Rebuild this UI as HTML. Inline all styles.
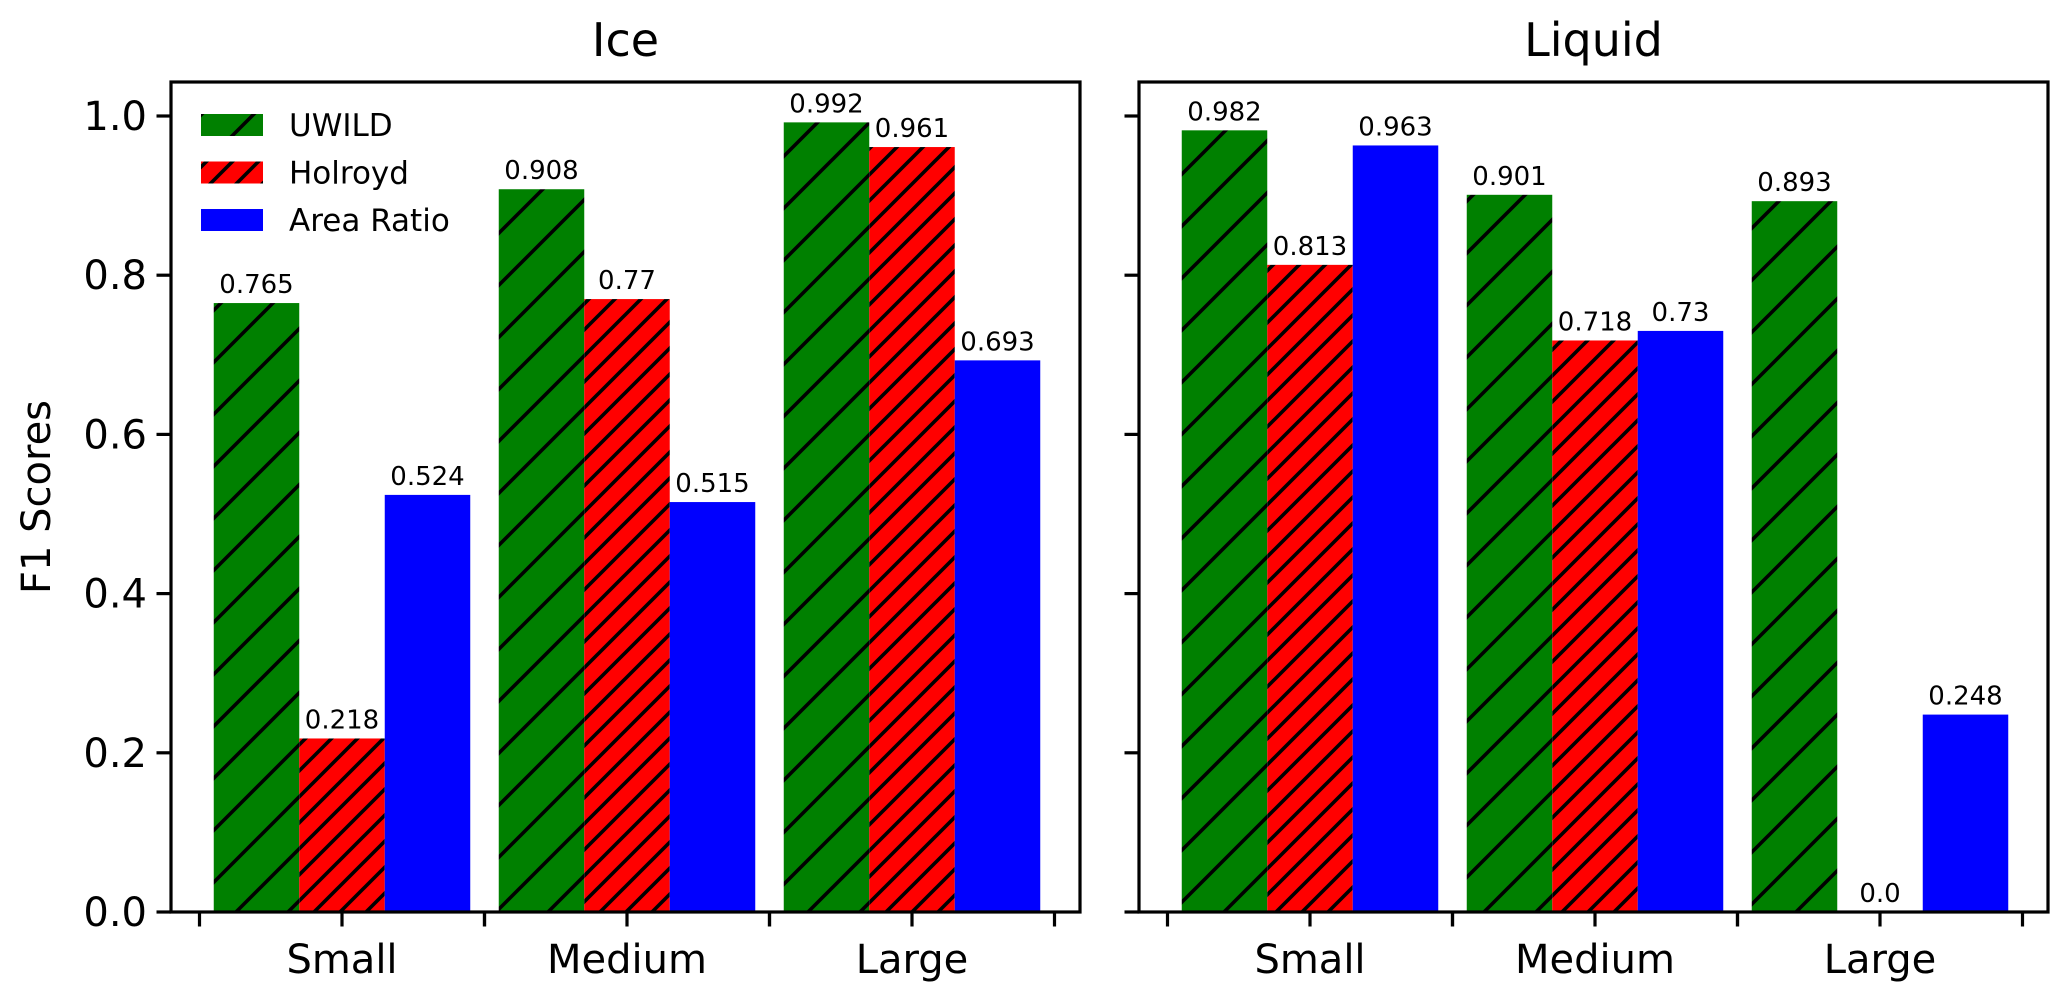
<!DOCTYPE html>
<html><head><meta charset="utf-8"><style>
html,body{margin:0;padding:0;background:#fff}
svg{display:block;font-family:"DejaVu Sans","Liberation Sans",sans-serif}
</style></head><body>
<svg id="chart" width="2067" height="1001" viewBox="0 0 2067 1001" xmlns="http://www.w3.org/2000/svg">
<defs>
<pattern id="hatch1" patternUnits="userSpaceOnUse" width="52" height="52" x="0" y="4">
<rect width="52" height="52" fill="#008000"/>
<path d="M-13,13 L13,-13 M0,52 L52,0 M39,65 L65,39" stroke="#000" stroke-width="3.6"/>
</pattern>
<pattern id="hatch2" patternUnits="userSpaceOnUse" width="26" height="26" x="0" y="4">
<rect width="26" height="26" fill="#ff0000"/>
<path d="M-6.5,6.5 L6.5,-6.5 M0,26 L26,0 M19.5,32.5 L32.5,19.5" stroke="#000" stroke-width="3.6"/>
</pattern>
</defs>
<g id="root"></g>
</svg>
<script>
const categories = ["Small", "Medium", "Large"];
const seriesNames = ["UWILD", "Holroyd", "Area Ratio"];
const iceUWILD = [0.765, 0.908, 0.992];
const iceHolroyd = [0.218, 0.77, 0.961];
const iceArea = [0.524, 0.515, 0.693];
const liqUWILD = [0.982, 0.901, 0.893];
const liqHolroyd = [0.813, 0.718, 0.0];
const liqArea = [0.963, 0.73, 0.248];
const valueLabelsIce = [["0.765","0.908","0.992"],["0.218","0.77","0.961"],["0.524","0.515","0.693"]];
const valueLabelsLiq = [["0.982","0.901","0.893"],["0.813","0.718","0.0"],["0.963","0.73","0.248"]];
const yTicks = [0.0, 0.2, 0.4, 0.6, 0.8, 1.0];
const yTickLabels = ["0.0","0.2","0.4","0.6","0.8","1.0"];

const NS = "http://www.w3.org/2000/svg";
const root = document.getElementById("root");
const fills = ["url(#hatch1)", "url(#hatch2)", "#0000ff"];
const TOP = 82, BOTTOM = 912, AXW = 909;
const yScale = v => BOTTOM - v * 796;
const GROUP = 285, BARW = 85.5;
function mk(tag, attrs, parent) {
  const e = document.createElementNS(NS, tag);
  for (const k in attrs) e.setAttribute(k, attrs[k]);
  (parent || root).appendChild(e);
  return e;
}
function txt(s, attrs, parent) { const t = mk("text", attrs, parent); t.textContent = s; return t; }

function panel(left, title, series, labels, showY, name) {
  const g = mk("g", {});
  
  
  const xScale = i => left + 171 + i * GROUP;
  series.forEach((vals, s) => {
    vals.forEach((v, i) => {
      const x = xScale(i) + (s - 1) * BARW - BARW / 2;
      const r = mk("rect", {x: x, y: yScale(v), width: BARW, height: BOTTOM - yScale(v), fill: fills[s]}, g);
      
      
      const t = txt(labels[s][i], {x: x + BARW / 2, y: yScale(v) - 10, "font-size": 26, "text-anchor": "middle", fill: "#000"}, g);
      
      
    });
  });
  const f = mk("rect", {x: left, y: TOP, width: AXW, height: BOTTOM - TOP, fill: "none", stroke: "#000", "stroke-width": 3.2}, g);
  
  
  yTicks.forEach((v, k) => {
    const y = yScale(v);
    const l = mk("line", {x1: left - 14.5, x2: left, y1: y, y2: y, stroke: "#000", "stroke-width": 3.2}, g);
    
    
    if (showY) {
      const t = txt(yTickLabels[k], {x: left - 24, y: y + 14, "font-size": 40, "text-anchor": "end"}, g);
      
      
    }
  });
  categories.forEach((c, i) => {
    const cx = xScale(i);
    [cx - GROUP / 2, cx, cx + GROUP / 2].forEach(x => {
      const l = mk("line", {x1: x, x2: x, y1: BOTTOM, y2: BOTTOM + 14.5, stroke: "#000", "stroke-width": 3.2}, g);
      
      
    });
    const t = txt(c, {x: cx, y: 973, "font-size": 40, "text-anchor": "middle"}, g);
    
    
  });
  const tt = txt(title, {x: left + AXW / 2, y: 56, "font-size": 46, "text-anchor": "middle"}, g);
  
  
}
panel(171, "Ice", [iceUWILD, iceHolroyd, iceArea], valueLabelsIce, true, "ice");
panel(1139, "Liquid", [liqUWILD, liqHolroyd, liqArea], valueLabelsLiq, false, "liquid");

const yl = txt("F1 Scores", {x: 0, y: 0, "font-size": 40, "text-anchor": "middle", transform: "translate(50,497) rotate(-90)"});



const lg = mk("g", {});


seriesNames.forEach((n, s) => {
  const y = 114 + s * 47.5;
  const r = mk("rect", {x: 201, y: y, width: 62, height: 22, fill: fills[s]}, lg);
  
  
  const t = txt(n, {x: 289, y: y + 22, "font-size": 31}, lg);
  
  
});
</script>
</body></html>
